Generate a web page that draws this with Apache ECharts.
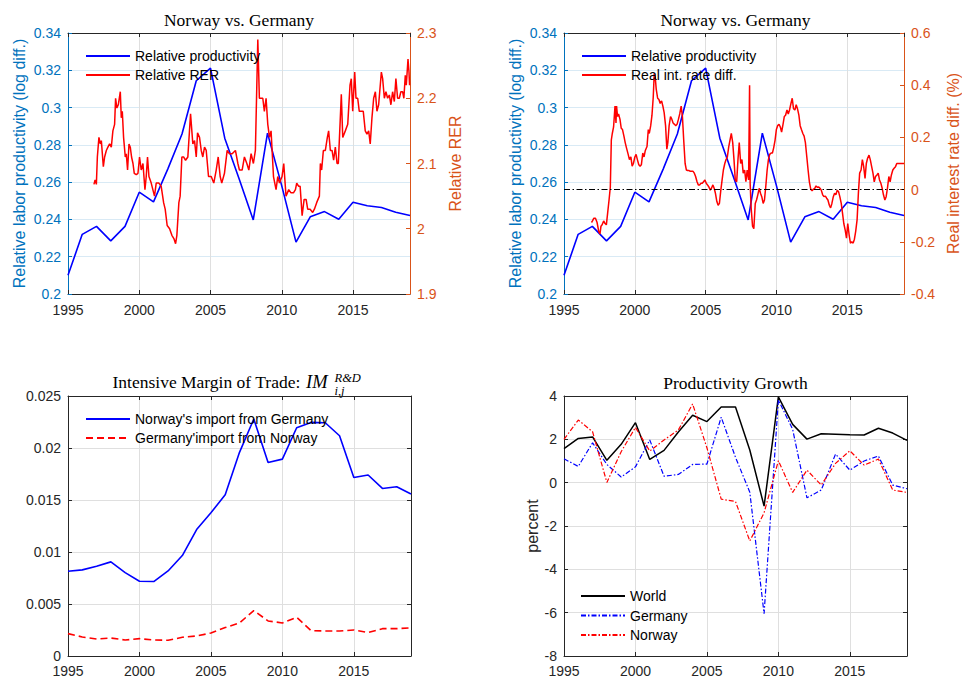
<!DOCTYPE html>
<html><head><meta charset="utf-8">
<script src="https://cdn.jsdelivr.net/npm/echarts@6/dist/echarts.min.js"></script>
<style>html,body{margin:0;padding:0;background:#fff}#c{width:962px;height:679px}</style>
</head><body><div id="c"></div>
<script>
// ---------- DATA ----------
const years = [1995,1996,1997,1998,1999,2000,2001,2002,2003,2004,2005,2006,2007,2008,2009,2010,2011,2012,2013,2014,2015,2016,2017,2018,2019];
const relProd = [0.210,0.232,0.2363,0.2285,0.2363,0.2546,0.2494,0.267,0.2858,0.3144,0.3212,0.2836,0.262,0.2397,0.2863,0.258,0.2278,0.2414,0.2442,0.2401,0.2492,0.2473,0.2464,0.2439,0.2421];

const rerYears = [1996.82,1996.90,1996.99,1997.06,1997.17,1997.27,1997.34,1997.48,1997.57,1997.69,1997.80,1997.92,1998.04,1998.15,1998.27,1998.34,1998.43,1998.53,1998.67,1998.74,1998.81,1998.90,1999.02,1999.09,1999.18,1999.28,1999.37,1999.46,1999.56,1999.65,1999.79,1999.91,2000.02,2000.14,2000.26,2000.40,2000.49,2000.58,2000.68,2000.84,2001.07,2001.19,2001.38,2001.54,2001.71,2001.82,2001.96,2002.13,2002.29,2002.43,2002.55,2002.64,2002.78,2002.87,2002.99,2003.11,2003.25,2003.41,2003.60,2003.76,2003.88,2004.00,2004.09,2004.23,2004.35,2004.46,2004.58,2004.70,2004.86,2005.05,2005.23,2005.40,2005.54,2005.68,2005.79,2005.98,2006.17,2006.33,2006.52,2006.75,2006.92,2007.03,2007.22,2007.38,2007.55,2007.69,2007.85,2008.01,2008.15,2008.32,2008.43,2008.55,2008.67,2008.78,2008.90,2009.02,2009.14,2009.25,2009.42,2009.60,2009.72,2009.84,2010.02,2010.14,2010.30,2010.49,2010.65,2010.82,2010.96,2011.05,2011.19,2011.29,2011.43,2011.57,2011.71,2011.82,2011.99,2012.17,2012.29,2012.45,2012.64,2012.71,2012.80,2012.92,2013.06,2013.20,2013.29,2013.41,2013.53,2013.64,2013.76,2013.88,2013.97,2014.09,2014.18,2014.28,2014.46,2014.63,2014.79,2014.88,2014.98,2015.12,2015.21,2015.33,2015.44,2015.63,2015.72,2015.86,2015.98,2016.10,2016.21,2016.33,2016.45,2016.57,2016.68,2016.80,2016.99,2017.08,2017.20,2017.31,2017.43,2017.55,2017.66,2017.78,2017.90,2018.01,2018.13,2018.25,2018.36,2018.48,2018.57,2018.67,2018.74,2018.86,2018.93,2018.97];
const rerVals = [2.068,2.075,2.068,2.11,2.14,2.13,2.135,2.095,2.11,2.12,2.125,2.13,2.125,2.15,2.16,2.2,2.185,2.19,2.21,2.17,2.18,2.14,2.11,2.115,2.09,2.13,2.125,2.11,2.1,2.085,2.083,2.085,2.11,2.09,2.1,2.06,2.08,2.11,2.08,2.07,2.05,2.07,2.07,2.065,2.04,2.03,2.005,2.0,1.99,1.985,1.977,1.99,2.04,2.05,2.11,2.11,2.105,2.11,2.176,2.13,2.135,2.11,2.147,2.14,2.12,2.11,2.125,2.12,2.08,2.08,2.07,2.09,2.11,2.08,2.07,2.085,2.12,2.115,2.115,2.12,2.1,2.09,2.09,2.11,2.1,2.09,2.115,2.1,2.12,2.29,2.2,2.2,2.2,2.18,2.2,2.16,2.14,2.15,2.08,2.06,2.08,2.07,2.08,2.1,2.05,2.06,2.055,2.055,2.06,2.07,2.065,2.065,2.02,2.045,2.045,2.03,2.03,2.025,2.03,2.04,2.05,2.1,2.09,2.12,2.12,2.14,2.15,2.12,2.12,2.105,2.125,2.1,2.1,2.16,2.206,2.14,2.15,2.16,2.22,2.23,2.18,2.24,2.2,2.2,2.18,2.18,2.18,2.15,2.145,2.15,2.13,2.17,2.2,2.21,2.18,2.19,2.24,2.23,2.2,2.21,2.2,2.205,2.19,2.21,2.195,2.23,2.2,2.2,2.21,2.21,2.2,2.235,2.22,2.26,2.24,2.22];

const rirYears = [1996.94,1997.01,1997.10,1997.22,1997.33,1997.45,1997.54,1997.61,1997.69,1997.80,1997.90,1997.99,1998.08,1998.18,1998.27,1998.34,1998.41,1998.50,1998.60,1998.67,1998.71,1998.78,1998.85,1998.95,1999.04,1999.13,1999.23,1999.32,1999.41,1999.53,1999.62,1999.72,1999.81,1999.90,2000.00,2000.09,2000.18,2000.28,2000.37,2000.46,2000.56,2000.65,2000.74,2000.86,2000.95,2001.02,2001.12,2001.21,2001.30,2001.37,2001.44,2001.51,2001.61,2001.70,2001.79,2001.89,2001.98,2002.07,2002.17,2002.26,2002.33,2002.42,2002.52,2002.61,2002.70,2002.80,2002.89,2002.98,2003.08,2003.17,2003.27,2003.36,2003.45,2003.55,2003.64,2003.73,2003.83,2003.92,2004.01,2004.11,2004.20,2004.29,2004.39,2004.48,2004.57,2004.67,2004.76,2004.85,2004.95,2005.04,2005.13,2005.23,2005.32,2005.41,2005.51,2005.60,2005.69,2005.79,2005.88,2005.97,2006.07,2006.16,2006.25,2006.35,2006.44,2006.53,2006.63,2006.72,2006.81,2006.91,2007.00,2007.09,2007.19,2007.28,2007.37,2007.47,2007.56,2007.65,2007.75,2007.84,2007.93,2008.03,2008.10,2008.14,2008.21,2008.31,2008.40,2008.50,2008.59,2008.68,2008.78,2008.87,2008.96,2009.06,2009.15,2009.24,2009.34,2009.43,2009.52,2009.62,2009.71,2009.80,2009.90,2009.99,2010.08,2010.18,2010.27,2010.36,2010.46,2010.55,2010.64,2010.74,2010.83,2010.92,2011.02,2011.11,2011.20,2011.30,2011.39,2011.48,2011.58,2011.67,2011.76,2011.86,2011.95,2012.04,2012.14,2012.23,2012.32,2012.42,2012.51,2012.60,2012.70,2012.79,2012.88,2012.98,2013.07,2013.16,2013.26,2013.35,2013.45,2013.54,2013.63,2013.73,2013.82,2013.91,2014.01,2014.10,2014.19,2014.29,2014.38,2014.47,2014.57,2014.66,2014.75,2014.85,2014.94,2015.03,2015.13,2015.22,2015.31,2015.41,2015.50,2015.59,2015.69,2015.78,2015.87,2015.97,2016.06,2016.15,2016.25,2016.34,2016.43,2016.53,2016.62,2016.71,2016.81,2016.90,2016.99,2017.09,2017.18,2017.27,2017.37,2017.46,2017.55,2017.65,2017.74,2017.83,2017.93,2018.02,2018.11,2018.21,2018.30,2018.40,2018.49,2018.58,2018.77,2019.00];
const rirVals = [-0.126,-0.12,-0.11,-0.11,-0.125,-0.16,-0.17,-0.14,-0.135,-0.12,-0.13,-0.135,-0.09,-0.04,0.01,0.19,0.215,0.24,0.32,0.255,0.32,0.28,0.29,0.27,0.235,0.23,0.205,0.18,0.16,0.135,0.115,0.125,0.09,0.10,0.125,0.135,0.115,0.095,0.09,0.095,0.14,0.125,0.15,0.165,0.23,0.215,0.245,0.285,0.355,0.445,0.43,0.385,0.35,0.345,0.33,0.34,0.32,0.295,0.245,0.155,0.18,0.245,0.28,0.27,0.255,0.25,0.245,0.25,0.27,0.29,0.32,0.28,0.19,0.10,0.075,0.073,0.073,0.07,0.07,0.07,0.063,0.05,0.03,0.018,0.018,0.024,0.024,0.03,0.037,0.024,0.018,0.01,-0.002,0.005,0.018,0.005,-0.014,-0.046,-0.06,-0.053,-0.002,0.037,0.075,0.10,0.115,0.125,0.165,0.19,0.215,0.18,0.115,0.037,0.03,0.115,0.18,0.10,0.115,0.063,0.075,0.03,0.075,0.037,0.40,0.024,-0.07,-0.14,-0.15,-0.053,-0.04,-0.02,0.005,-0.014,-0.027,-0.053,-0.04,0.01,0.075,0.115,0.135,0.14,0.14,0.16,0.19,0.23,0.245,0.25,0.24,0.22,0.25,0.28,0.285,0.305,0.29,0.305,0.33,0.35,0.31,0.305,0.325,0.31,0.285,0.245,0.23,0.215,0.205,0.18,0.125,0.075,0.03,0.001,-0.004,0.001,0.005,0.014,0.009,0.01,0.005,-0.002,-0.02,-0.027,-0.025,-0.033,-0.04,-0.06,-0.07,-0.053,-0.027,-0.014,-0.02,-0.002,-0.008,-0.027,-0.053,-0.09,-0.13,-0.155,-0.186,-0.13,-0.175,-0.205,-0.2,-0.205,-0.19,-0.16,-0.115,-0.014,0.063,0.075,0.115,0.09,0.043,0.10,0.12,0.132,0.115,0.09,0.063,0.03,0.05,0.056,0.063,0.037,0.024,0.005,-0.02,-0.04,-0.027,0.005,0.05,0.03,0.056,0.075,0.082,0.088,0.10,0.10,0.10,0.10];

const norImport = [0.00815,0.00828,0.00863,0.00905,0.00802,0.00719,0.00716,0.00818,0.00966,0.01216,0.01377,0.0155,0.01958,0.02279,0.01861,0.01893,0.02195,0.02246,0.02243,0.02118,0.01717,0.0174,0.01611,0.01627,0.01557];
const gerImport = [0.00215,0.00183,0.00164,0.00173,0.00154,0.00167,0.00154,0.00151,0.0018,0.00193,0.00221,0.00273,0.00318,0.00437,0.00337,0.00318,0.00372,0.00244,0.00241,0.00241,0.0025,0.00225,0.00263,0.00263,0.0027];

const worldGrowth = [1.57,2.04,2.11,1.03,1.77,2.77,1.07,1.49,2.34,3.11,2.82,3.49,3.49,1.51,-1.08,3.96,2.69,2.01,2.26,2.24,2.21,2.20,2.51,2.29,1.95];
const germanyGrowth = [1.10,0.75,1.84,0.84,0.26,0.73,1.97,0.30,0.38,0.84,0.86,3.02,1.17,-0.44,-6.05,3.82,2.46,-0.70,-0.34,1.32,0.58,1.00,1.23,-0.11,-0.28];
const norwayGrowth = [2.0,2.89,2.35,0.01,1.43,2.55,1.46,1.97,2.43,3.63,1.61,-0.76,-0.87,-2.69,-1.39,1.01,-0.45,0.58,-0.11,0.89,1.47,0.81,1.09,-0.34,-0.45];

// ---------- STYLE ----------
const SANS = '"Liberation Sans", Arial, Helvetica, sans-serif';
const SERIF = '"Liberation Serif", "Times New Roman", serif';
const DARK = '#262626', BLUEAX = '#0072BD', ORANGE = '#D95319';
const GRIDGRAY = '#DFDFDF', GRIDBLUE = '#D9EAF5';

const pairs = (xs, ys) => xs.slice(0, Math.min(xs.length, ys.length)).map((x, i) => [x, ys[i]]);

function xBottom(gi, margin) {
  return { type: 'value', gridIndex: gi, min: 1995, max: 2019, interval: 5, position: 'bottom',
    axisLine: { show: true, onZero: false, lineStyle: { color: DARK, width: 1 } },
    axisTick: { show: true, inside: true, length: 4, lineStyle: { color: DARK } },
    axisLabel: { show: true, margin: margin, color: DARK, fontSize: 14, lineHeight: 14, fontFamily: SANS, showMaxLabel: false,
      formatter: v => String(v) },
    splitLine: { show: true, lineStyle: { color: GRIDGRAY, width: 1 } } };
}
function xTop(gi) {
  return { type: 'value', gridIndex: gi, min: 1995, max: 2019, interval: 5, position: 'top',
    axisLine: { show: true, onZero: false, lineStyle: { color: DARK, width: 1 } },
    axisTick: { show: true, inside: true, length: 4, lineStyle: { color: DARK } },
    axisLabel: { show: false }, splitLine: { show: false } };
}
function yAx(gi, pos, min, max, interval, color, labelColor, name, nameGap, split, showLabel) {
  return { type: 'value', gridIndex: gi, position: pos, min: min, max: max, interval: interval,
    name: name || '', nameLocation: 'middle', nameGap: nameGap || 0,
    nameTextStyle: { color: labelColor, fontSize: 16, fontFamily: SANS },
    axisLine: { show: true, onZero: false, lineStyle: { color: color, width: 1 } },
    axisTick: { show: true, inside: true, length: 4, lineStyle: { color: color } },
    axisLabel: { show: showLabel !== false, margin: 7, color: labelColor, fontSize: 14, lineHeight: 14, fontFamily: SANS },
    splitLine: { show: !!split, lineStyle: { color: split || GRIDGRAY, width: 1 } } };
}
function line(name, xi, yi, data, color, width, dash) {
  return { name: name, type: 'line', xAxisIndex: xi, yAxisIndex: yi, data: data, symbol: 'none',
    showSymbol: false, smooth: false, animation: false,
    lineStyle: { color: color, width: width, type: dash || 'solid' }, itemStyle: { color: color } };
}
const legendBase = { orient: 'vertical', padding: 0, itemWidth: 44, itemHeight: 14, itemGap: 5, selectedMode: false,
  itemStyle: { opacity: 0 },
  textStyle: { fontSize: 14, color: '#000', fontFamily: SANS } };

const chart = echarts.init(document.getElementById('c'), null, { renderer: 'svg' });
const rirSeries = line('Real int. rate diff.', 2, 3, pairs(rirYears, rirVals), '#FF0000', 1.5);
rirSeries.markLine = { silent: true, symbol: ['none', 'none'], label: { show: false }, animation: false,
  lineStyle: { color: '#000', type: [6, 2.5, 1.5, 2.5], width: 1 }, data: [{ yAxis: 0 }] };

chart.setOption({
  animation: false,
  backgroundColor: '#fff',
  grid: [
    { left: 68, top: 33, width: 342, height: 261 },
    { left: 564, top: 33, width: 343, height: 261 },
    { left: 68, top: 396, width: 343, height: 260 },
    { left: 564, top: 396, width: 343, height: 260 }
  ],
  xAxis: [xBottom(0, 9), xTop(0), xBottom(1, 9), xTop(1), xBottom(2, 8), xTop(2), xBottom(3, 8), xTop(3)],
  yAxis: [
    yAx(0, 'left', 0.2, 0.34, 0.02, BLUEAX, BLUEAX, 'Relative labor productivity (log diff.)', 41, GRIDBLUE),
    yAx(0, 'right', 1.9, 2.3, 0.1, ORANGE, ORANGE, 'Relative RER', 37, null),
    yAx(1, 'left', 0.2, 0.34, 0.02, BLUEAX, BLUEAX, 'Relative labor productivity (log diff.)', 41, GRIDBLUE),
    yAx(1, 'right', -0.4, 0.6, 0.2, ORANGE, ORANGE, 'Real interest rate diff. (%)', 41, null),
    yAx(2, 'left', 0, 0.025, 0.005, DARK, DARK, '', 0, GRIDGRAY),
    yAx(2, 'right', 0, 0.025, 0.005, DARK, DARK, '', 0, null, false),
    yAx(3, 'left', -8, 4, 2, DARK, DARK, 'percent', 21, GRIDGRAY),
    yAx(3, 'right', -8, 4, 2, DARK, DARK, '', 0, null, false)
  ],
  legend: [
    Object.assign({}, legendBase, { left: 85, top: 49, data: ['Relative productivity', 'Relative RER'] }),
    Object.assign({}, legendBase, { left: 581, top: 49, data: ['Relative productivity', 'Real int. rate diff.'] }),
    Object.assign({}, legendBase, { left: 85, top: 412, data: ["Norway's import from Germany", "Germany'import from Norway"] }),
    Object.assign({}, legendBase, { left: 580, top: 589, itemGap: 5.5, data: ['World', 'Germany', 'Norway'] })
  ],
  series: [
    line('Relative productivity', 0, 0, pairs(years, relProd), '#0000FF', 1.6),
    line('Relative RER', 0, 1, pairs(rerYears, rerVals), '#FF0000', 1.5),
    line('Relative productivity', 2, 2, pairs(years, relProd), '#0000FF', 1.6),
    rirSeries,
    line("Norway's import from Germany", 4, 4, pairs(years, norImport), '#0000FF', 1.6),
    line("Germany'import from Norway", 4, 4, pairs(years, gerImport), '#FF0000', 1.6, [7, 4]),
    line('World', 6, 6, pairs(years, worldGrowth), '#000000', 1.5),
    line('Germany', 6, 6, pairs(years, germanyGrowth), '#0000FF', 1.2, [5, 2, 1.5, 2]),
    line('Norway', 6, 6, pairs(years, norwayGrowth), '#FF0000', 1.2, [5, 2, 1.5, 2])
  ],
  graphic: [
    { type: 'text', x: 239, y: 19.5, style: { text: 'Norway vs. Germany', font: '17.5px ' + SERIF, fill: '#000', align: 'center', verticalAlign: 'middle' } },
    { type: 'text', x: 735.5, y: 19.5, style: { text: 'Norway vs. Germany', font: '17.5px ' + SERIF, fill: '#000', align: 'center', verticalAlign: 'middle' } },
    { type: 'text', x: 112.5, y: 381.5, style: { text: 'Intensive Margin of Trade:', font: '17.5px ' + SERIF, fill: '#000', align: 'left', verticalAlign: 'middle' } },
    { type: 'text', x: 306, y: 381.5, style: { text: 'IM', font: 'italic 18.5px ' + SERIF, fill: '#000', align: 'left', verticalAlign: 'middle' } },
    { type: 'text', x: 334.5, y: 378, style: { text: 'R&D', font: 'italic 12.5px ' + SERIF, fill: '#000', align: 'left', verticalAlign: 'middle' } },
    { type: 'text', x: 334.5, y: 390.5, style: { text: 'i,j', font: 'italic 12.5px ' + SERIF, fill: '#000', align: 'left', verticalAlign: 'middle' } },
    { type: 'text', x: 735.5, y: 382.5, style: { text: 'Productivity Growth', font: '17.5px ' + SERIF, fill: '#000', align: 'center', verticalAlign: 'middle' } }
  ]
});
</script></body></html>
